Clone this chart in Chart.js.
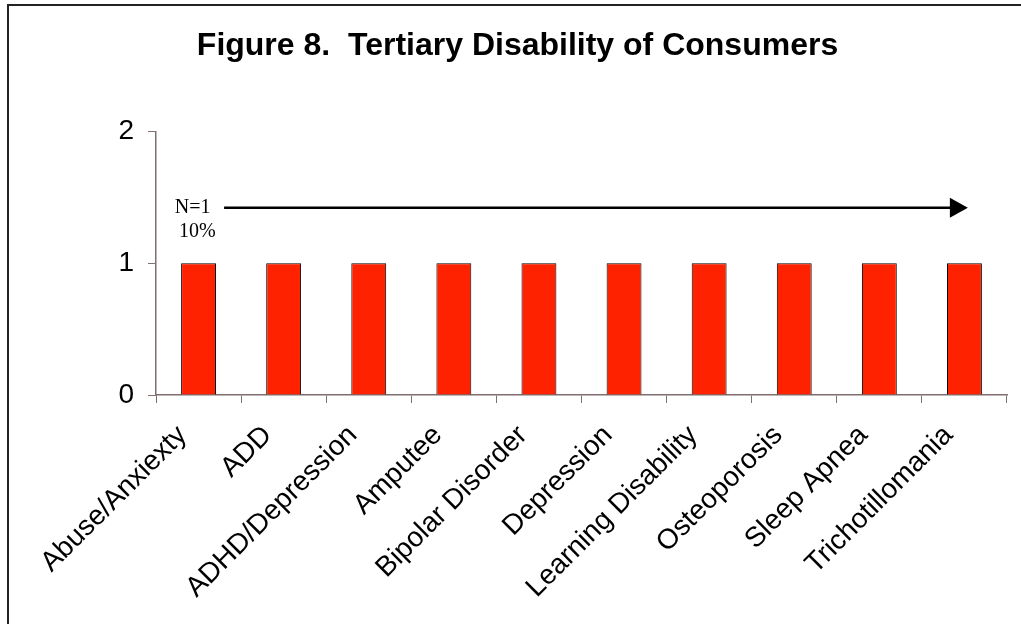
<!DOCTYPE html>
<html>
<head>
<meta charset="utf-8">
<script src="https://cdn.jsdelivr.net/npm/chart.js@4"></script>
<style>
  html, body { margin: 0; padding: 0; background: #fff; overflow: hidden; }
  #wrap { position: relative; width: 1021px; height: 624px; }
  #frame { position: absolute; left: 7px; top: 4px; width: 1200px; height: 800px; border: 2px solid #222; pointer-events: none; }
</style>
</head>
<body>
<div id="wrap">
  <canvas id="myChart" width="1021" height="624"></canvas>
  <div id="frame"></div>
</div>
<script>
"use strict";

// Data
const categories = [
    "Abuse/Anxiexty", "ADD", "ADHD/Depression", "Amputee", "Bipolar Disorder",
    "Depression", "Learning Disability", "Osteoporosis", "Sleep Apnea", "Trichotillomania",
];
const counts = [1, 1, 1, 1, 1, 1, 1, 1, 1, 1];
const noteLines = ["N=1", "10%"];
const noteLevel = 1.42; // arrow height in axis units
const arrowFrom = 0.3;  // category index where the arrow starts
const arrowTo = 9.04;   // category index of the arrow tip

const axisColor = "#7f6f6f";

// Arrow + "N=1 / 10%" note, placed through the chart's scales
const notePlugin = {
    id: "note",
    afterDatasetsDraw(chart) {
        const { ctx, scales: { x, y } } = chart;
        const yLine = y.getPixelForValue(noteLevel);
        const x0 = x.getPixelForValue(arrowFrom);
        const x1 = x.getPixelForValue(arrowTo);
        ctx.save();
        ctx.strokeStyle = "#000";
        ctx.fillStyle = "#000";
        ctx.lineWidth = 2.5;
        ctx.beginPath();
        ctx.moveTo(x0, yLine);
        ctx.lineTo(x1 - 16, yLine);
        ctx.stroke();
        ctx.beginPath();
        ctx.moveTo(x1, yLine);
        ctx.lineTo(x1 - 18, yLine - 10);
        ctx.lineTo(x1 - 18, yLine + 10);
        ctx.closePath();
        ctx.fill();

        ctx.font = '20px "Liberation Serif", "Times New Roman", serif';
        ctx.textAlign = "left";
        ctx.textBaseline = "alphabetic";
        ctx.fillText(noteLines[0], x.getPixelForValue(-0.28), y.getPixelForValue(1.38));
        ctx.fillText(noteLines[1], x.getPixelForValue(-0.23), y.getPixelForValue(1.2));
        ctx.restore();
    },
};

const data = {
    labels: categories,
    datasets: [
        {
            data: counts,
            backgroundColor: "#ff2200",
            borderColor: "#000",
            borderWidth: 1,
            barPercentage: 0.41,
            categoryPercentage: 1,
        },
    ],
};

const config = {
    type: "bar",
    data: data,
    plugins: [notePlugin],
    options: {
        responsive: false,
        animation: false,
        layout: { padding: { left: 28, right: 14, top: 0, bottom: 0 } },
        plugins: {
            legend: { display: false },
            tooltip: { enabled: false },
            title: {
                display: true,
                text: "Figure 8.  Tertiary Disability of Consumers",
                color: "#000",
                font: { family: "Arial, 'Liberation Sans', sans-serif", size: 32, weight: "bold" },
                padding: { top: 27, bottom: 66 },
            },
        },
        scales: {
            x: {
                offset: true,
                grid: {
                    display: true,
                    drawOnChartArea: false,
                    offset: true,
                    tickLength: 8,
                    color: axisColor,
                },
                border: { color: axisColor, width: 1.5 },
                ticks: {
                    color: "#000",
                    maxRotation: 45,
                    minRotation: 45,
                    autoSkip: false,
                    padding: 16,
                    labelOffset: -16,
                    font: { family: "Arial, 'Liberation Sans', sans-serif", size: 28 },
                },
                afterFit(scale) { scale.height = 229; },
            },
            y: {
                min: 0,
                max: 2,
                ticks: {
                    stepSize: 1,
                    color: "#000",
                    padding: 14,
                    font: { family: "Arial, 'Liberation Sans', sans-serif", size: 28 },
                },
                grid: {
                    display: true,
                    drawOnChartArea: false,
                    tickLength: 8,
                    color: axisColor,
                },
                border: { color: axisColor, width: 1.5 },
                afterFit(scale) { scale.width = 128; },
            },
        },
    },
};

const myChart = new Chart(document.getElementById("myChart"), config);
</script>
</body>
</html>
